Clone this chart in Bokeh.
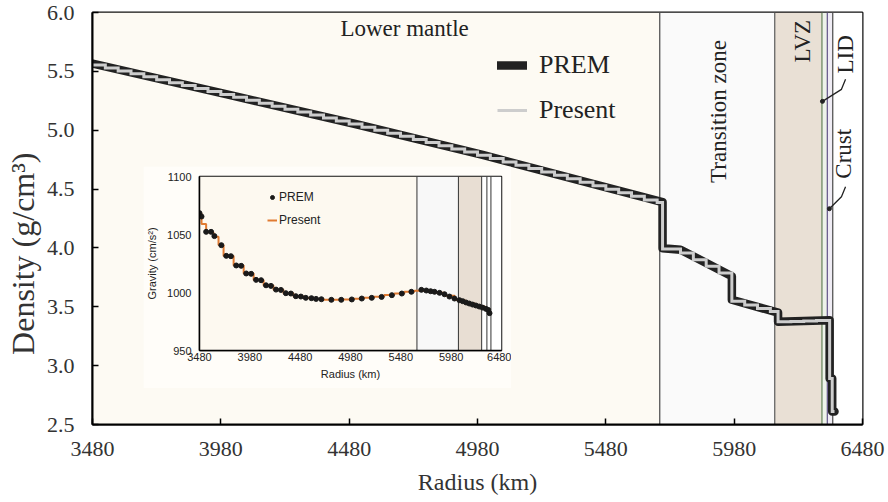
import math
from bokeh.plotting import figure
from bokeh.models import (Range1d, FixedTicker, Legend, LegendItem, Label, BoxAnnotation,
                          Span, NumeralTickFormatter)
from bokeh.layouts import column
from bokeh.embed import file_html
from bokeh.resources import INLINE

# ---------------- main chart data ----------------
x_ticks = [3480, 3980, 4480, 4980, 5480, 5980, 6480]
y_ticks = [2.5, 3.0, 3.5, 4.0, 4.5, 5.0, 5.5, 6.0]

prem_r = [3480, 4000, 4500, 5000, 5500, 5701, 5701, 5771, 5971, 5971, 6151, 6151,
          6352, 6352, 6362, 6362, 6371]
prem_rho = [5.566, 5.307, 5.055, 4.790, 4.504, 4.390, 3.998, 3.985, 3.760, 3.560, 3.450, 3.372,
            3.386, 2.890, 2.890, 2.610, 2.610]

present_edges = [3480, 3530, 3580, 3630, 3680, 3730, 3780, 3830, 3880, 3930, 3980, 4030,
                 4080, 4130, 4180, 4230, 4280, 4330, 4380, 4430, 4480, 4530, 4580, 4630,
                 4680, 4730, 4780, 4830, 4880, 4930, 4980, 5030, 5080, 5130, 5180, 5230,
                 5280, 5330, 5380, 5430, 5480, 5530, 5580, 5630, 5680,
                 5701, 5771, 5821, 5871, 5921, 5971, 6021, 6071, 6121, 6151, 6201, 6251,
                 6301, 6352, 6362, 6371]
present_rho = [5.554, 5.529, 5.504, 5.479, 5.454, 5.429, 5.404, 5.379, 5.354, 5.329,
               5.304, 5.280, 5.255, 5.229, 5.204, 5.179, 5.154, 5.129, 5.103, 5.078,
               5.052, 5.026, 5.000, 4.974, 4.948, 4.922, 4.895, 4.868, 4.841, 4.814,
               4.787, 4.759, 4.731, 4.703, 4.675, 4.646, 4.617, 4.588, 4.559, 4.529,
               4.499, 4.469, 4.439, 4.408, 4.386,
               3.990, 3.957, 3.900, 3.844, 3.788, 3.546, 3.516, 3.485, 3.459,
               3.372, 3.376, 3.380, 3.384, 2.890, 2.610]

zone_edges = [3480, 5690, 6138, 6322, 6343, 6364, 6480]
zone_colors = ["#fdfaf3", "#fafafa", "#e9e0d5", "#eef3ea", "#f0edf5", "#ffffff"]
zone_line_colors = ["#555555", "#666666", "#6f8a62", "#6d6090", "#555555"]

zone_labels = ["Lower mantle", "Transition zone", "LVZ", "LID", "Crust"]
zone_label_x = [4696, 5919, 6246, 6414, 6406]
zone_label_y = [5.866, 5.159, 5.756, 5.645, 4.800]
zone_label_angle = [0, 90, 90, 90, 90]

lid_leader_r = [6324, 6398, 6414]
lid_leader_rho = [5.245, 5.347, 5.432]
crust_leader_r = [6351, 6398, 6414]
crust_leader_rho = [4.333, 4.435, 4.520]

# ---------------- inset data ----------------
ix_ticks = [3480, 3980, 4480, 4980, 5480, 5980, 6480]
iy_ticks = [950, 1000, 1050, 1100]

grav_prem_r = [3480, 3500, 3546, 3595, 3628, 3697, 3746, 3792, 3845, 3894, 3944, 3993,
               4042, 4092, 4141, 4190, 4240, 4289, 4338, 4388, 4437, 4487, 4536, 4592,
               4638, 4691, 4790, 4888, 4993, 5092, 5191, 5289, 5391, 5490, 5585, 5684,
               5733, 5776, 5815, 5865, 5914, 5963, 6013, 6062, 6095, 6128, 6160, 6193,
               6226, 6259, 6292, 6325, 6348, 6361]
grav_prem_g = [1068.4, 1065.5, 1052.3, 1052.3, 1048.6, 1040.8, 1031.6, 1031.3, 1023.3,
               1023.0, 1016.4, 1016.1, 1010.9, 1010.6, 1006.2, 1005.7, 1002.5, 1002.2,
               999.4, 999.1, 996.8, 996.5, 995.4, 995.1, 994.5, 994.2, 993.7, 993.7,
               994.0, 994.8, 995.4, 996.2, 997.7, 999.1, 1000.6, 1002.3, 1001.7, 1001.1,
               1000.6, 999.7, 998.5, 996.5, 994.8, 993.4, 992.5, 991.4, 990.5, 989.6,
               988.8, 987.9, 987.0, 985.9, 985.0, 982.2]

grav_present_edges = [3480, 3500, 3546, 3619, 3669, 3719, 3819, 3919, 4018, 4117, 4215,
                      4314, 4413, 4512, 4615, 4715, 4815, 4915, 5015, 5115, 5215, 5315,
                      5415, 5515, 5615, 5715, 5815, 5915, 6015, 6115, 6215, 6315, 6371]
grav_present_g = [1068.0, 1059.0, 1052.0, 1048.0, 1041.0, 1031.5, 1023.2, 1016.3, 1010.8,
                  1006.0, 1002.4, 999.3, 996.7, 995.3, 994.4, 993.8, 993.7, 994.0, 994.6,
                  995.4, 996.3, 997.8, 999.2, 1000.7, 1001.6, 1001.2, 999.8, 997.2, 993.5,
                  990.6, 988.0, 985.2]

inset_zone_edges = [3480, 5640, 6052, 6283, 6335, 6375, 6480]
inset_zone_colors = ["#fdf9f0", "#f8f8f8", "#e8ded3", "#ffffff", "#ffffff", "#ffffff"]


def stairs(edges, levels):
    xs, ys = [], []
    for i, lv in enumerate(levels):
        xs += [edges[i], edges[i + 1]]
        ys += [lv, lv]
    return xs, ys


SERIF = "Liberation Serif"
SANS = "Liberation Sans"

# ---------------- main figure ----------------
p = figure(width=888, height=502, x_range=Range1d(3480, 6480), y_range=Range1d(2.5, 6.0),
           output_backend="svg", toolbar_location=None,
           min_border_left=92, min_border_right=26, min_border_top=12, min_border_bottom=78,
           background_fill_color="#ffffff", border_fill_color="#ffffff",
           outline_line_color="#111111", outline_line_width=2)
p.grid.visible = False

for i, c in enumerate(zone_colors):
    p.add_layout(BoxAnnotation(left=zone_edges[i], right=zone_edges[i + 1],
                               fill_color=c, fill_alpha=1.0, line_color=None, level="underlay"))
for i, lc in enumerate(zone_line_colors):
    p.add_layout(Span(location=zone_edges[i + 1], dimension="height", line_color=lc,
                      line_width=1.3, level="underlay"))

prem_line = p.line(prem_r, prem_rho, line_width=8.5, line_color="#222222",
                   line_join="round", line_cap="round")
sx, sy = stairs(present_edges, present_rho)
pres_line = p.line(sx, sy, line_width=3, line_color="#cdcdcd", line_join="miter")

for t, x, y, a in zip(zone_labels, zone_label_x, zone_label_y, zone_label_angle):
    p.add_layout(Label(x=x, y=y, text=t, angle=math.radians(a), text_align="center",
                       text_baseline="middle", text_font=SERIF, text_font_size="23px",
                       text_color="#222222"))

p.line(lid_leader_r, lid_leader_rho, line_color="#222222", line_width=1.3)
p.line(crust_leader_r, crust_leader_rho, line_color="#222222", line_width=1.3)
p.scatter([lid_leader_r[0], crust_leader_r[0]], [lid_leader_rho[0], crust_leader_rho[0]],
          size=4, color="#222222")

legend = Legend(items=[LegendItem(label="PREM", renderers=[prem_line]),
                       LegendItem(label="Present", renderers=[pres_line])],
                location=(405, 294), label_text_font=SERIF, label_text_font_size="26px",
                label_text_color="#222222", glyph_width=30, glyph_height=40,
                label_height=40, spacing=5, padding=0, margin=0, label_standoff=12,
                border_line_color=None, background_fill_alpha=0)
p.add_layout(legend)

for ax in (p.xaxis[0], p.yaxis[0]):
    ax.major_label_text_font = SERIF
    ax.major_label_text_font_size = "22px"
    ax.major_label_text_color = "#333333"
    ax.axis_label_text_font = SERIF
    ax.axis_label_text_font_size = "24px"
    ax.axis_label_text_font_style = "normal"
    ax.axis_label_text_color = "#333333"
    ax.major_tick_in = 6
    ax.major_tick_out = 0
    ax.minor_tick_line_color = None
    ax.axis_line_width = 2
    ax.major_tick_line_width = 1.5
p.xaxis.ticker = FixedTicker(ticks=x_ticks)
p.yaxis.ticker = FixedTicker(ticks=y_ticks)
p.yaxis.formatter = NumeralTickFormatter(format="0.0")
p.xaxis.axis_label = "Radius (km)"
p.xaxis.major_label_standoff = 17
p.yaxis.major_label_standoff = 18
p.xaxis.axis_label_standoff = 10
# trailing em spaces shift the visible title a little below the frame centre, as in the original
p.yaxis.axis_label = "Density (g/cm³)\u2003\u2003\u2009"
p.yaxis.axis_label_text_font_size = "32px"
p.yaxis.axis_label_standoff = 3

# ---------------- inset figure ----------------
ins = figure(width=368, height=222, x_range=Range1d(3480, 6480), y_range=Range1d(950, 1100),
             output_backend="svg", toolbar_location=None,
             min_border_left=54, min_border_right=10, min_border_top=10, min_border_bottom=38,
             background_fill_color="#ffffff", border_fill_color="#fffdf9",
             outline_line_color="#111111", outline_line_width=1.5)
ins.grid.visible = False
for i, c in enumerate(inset_zone_colors):
    ins.add_layout(BoxAnnotation(left=inset_zone_edges[i], right=inset_zone_edges[i + 1],
                                 fill_color=c, fill_alpha=1.0, line_color=None,
                                 level="underlay"))
for e in inset_zone_edges[1:-1]:
    ins.add_layout(Span(location=e, dimension="height", line_color="#333333",
                        line_width=1, level="underlay"))

gx, gy = stairs(grav_present_edges, grav_present_g)
g_pres = ins.line(gx, gy, line_color="#e07b32", line_width=2)
g_prem = ins.scatter(grav_prem_r, grav_prem_g, size=5, color="#1a1a1a")

ilegend = Legend(items=[LegendItem(label="PREM", renderers=[g_prem]),
                        LegendItem(label="Present", renderers=[g_pres])],
                 location=(68, 120), label_text_font=SANS, label_text_font_size="12px",
                 label_text_color="#222222", glyph_width=10, glyph_height=20,
                 label_height=20, spacing=3, padding=0, margin=0, label_standoff=2,
                 border_line_color=None, background_fill_alpha=0)
ins.add_layout(ilegend)

for ax in (ins.xaxis[0], ins.yaxis[0]):
    ax.major_label_text_font = SANS
    ax.major_label_text_font_size = "11px"
    ax.major_label_text_color = "#222222"
    ax.axis_label_text_font = SANS
    ax.axis_label_text_font_size = "11px"
    ax.axis_label_text_font_style = "normal"
    ax.axis_label_text_color = "#222222"
    ax.major_tick_in = 0
    ax.major_tick_out = 0
    ax.minor_tick_line_color = None
    ax.axis_line_width = 1.5
ins.xaxis.ticker = FixedTicker(ticks=ix_ticks)
ins.yaxis.ticker = FixedTicker(ticks=iy_ticks)
ins.xaxis.axis_label = "Radius (km)"
ins.yaxis.axis_label = "Gravity (cm/s²)"
ins.xaxis.major_label_standoff = 2
ins.yaxis.major_label_standoff = 8
ins.xaxis.axis_label_standoff = 4
ins.yaxis.axis_label_standoff = 6

inset_box = column(ins, styles={"position": "absolute", "left": "143px", "top": "166px",
                                "z-index": "5"})

layout = column(p, inset_box)
open("out.html", "w").write(file_html(layout, INLINE))
